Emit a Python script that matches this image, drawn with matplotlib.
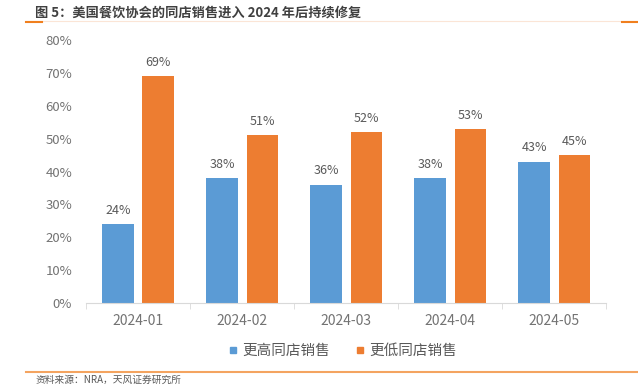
import numpy as np
import matplotlib.pyplot as plt
from matplotlib.lines import Line2D

plt.rcParams['font.family'] = ['Noto Sans CJK SC', 'DejaVu Sans']

months = ['2024-01', '2024-02', '2024-03', '2024-04', '2024-05']
higher = [24, 38, 36, 38, 43]
lower = [69, 51, 52, 53, 45]
series_names = ['更高同店销售', '更低同店销售']
title = '图 5：美国餐饮协会的同店销售进入 2024 年后持续修复'
source = '资料来源：NRA，天风证券研究所'

blue = '#5B9BD5'
orange = '#ED7D31'
grey = '#595959'
tick_grey = '#737373'

fig = plt.figure(figsize=(6.38, 3.90), dpi=100)
ax = fig.add_axes([0.1348, 0.2231, 0.8152, 0.6743])

x = np.arange(len(months))
w = 0.3
off = 0.193
b1 = ax.bar(x - off, higher, w, color=blue, label=series_names[0])
b2 = ax.bar(x + off, lower, w, color=orange, label=series_names[1])

for bars, vals in ((b1, higher), (b2, lower)):
    for r, v in zip(bars, vals):
        ax.text(r.get_x() + r.get_width() / 2, v + 2.2, f'{v}%',
                ha='center', va='bottom', fontsize=9, color=grey)

ax.set_xlim(-0.5, len(months) - 0.5)
ax.set_ylim(0, 80)
ax.set_yticks(range(0, 81, 10))
ax.set_yticklabels([f'{v}%' for v in range(0, 81, 10)])
ax.set_xticks(x)
ax.set_xticklabels(months)
ax.set_xticks(np.arange(-0.5, len(months), 1), minor=True)
ax.tick_params(axis='x', which='major', length=0, pad=8, labelsize=10, labelcolor=tick_grey)
ax.tick_params(axis='x', which='minor', length=4, color='#D9D9D9', direction='out')
ax.tick_params(axis='y', length=0, pad=10, labelsize=9.5, labelcolor=tick_grey)
for s in ['top', 'right', 'left']:
    ax.spines[s].set_visible(False)
ax.spines['bottom'].set_color('#D9D9D9')

handles = [Line2D([], [], marker='s', linestyle='', color=blue, markersize=5),
           Line2D([], [], marker='s', linestyle='', color=orange, markersize=5)]
fig.legend(handles, series_names, loc='center', bbox_to_anchor=(0.535, 0.1), ncol=2,
           frameon=False, fontsize=10.5, labelcolor=grey, handletextpad=0.1,
           columnspacing=1.6, handlelength=1.0)

# title and decorative lines
fig.text(0.055, 0.968, title, fontsize=9.5, fontweight='bold', color='#404040', va='center')
fig.add_artist(Line2D([0.04, 1.0], [0.946, 0.946], color='#FBE5D6', lw=0.8))
fig.add_artist(Line2D([0.04, 0.066], [0.944, 0.944], color='#F07F1E', lw=1.5))
fig.add_artist(Line2D([0.975, 1.0], [0.944, 0.944], color='#F07F1E', lw=1.5))
fig.add_artist(Line2D([0.04, 1.0], [0.046, 0.046], color='#F4A460', lw=1.5))
fig.text(0.055, 0.026, source, fontsize=7, color=grey, va='center')

fig.savefig('out.png', dpi=100)
